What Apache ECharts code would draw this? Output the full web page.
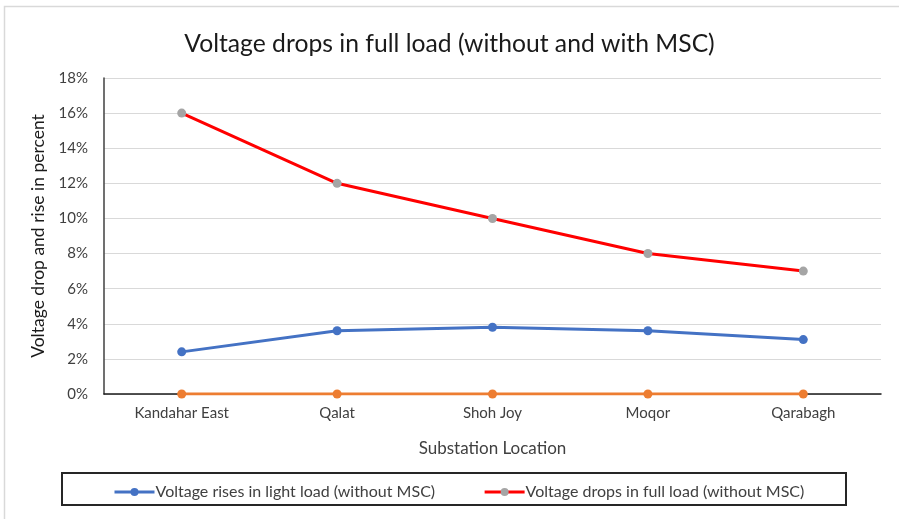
<!DOCTYPE html>
<html>
<head>
<meta charset="utf-8">
<script src="https://cdn.jsdelivr.net/npm/echarts@6/dist/echarts.min.js"></script>
<style>
html,body{margin:0;padding:0;background:#fff;}
#chart{width:899px;height:519px;}
</style>
</head>
<body>
<div id="chart"></div>
<script>
const categories = ['Kandahar East', 'Qalat', 'Shoh Joy', 'Moqor', 'Qarabagh'];
const lightLoadWithout = [2.4, 3.6, 3.8, 3.6, 3.1];
const fullLoadWithout = [16, 12, 10, 8, 7];
const withMSC = [0, 0, 0, 0, 0];
const yTicks = { min: 0, max: 18, interval: 2 };

const FONT = 'Lato, "Open Sans", sans-serif';
const chart = echarts.init(document.getElementById('chart'));
chart.setOption({
  animation: false,
  backgroundColor: '#fff',
  title: {
    text: 'Voltage drops in full load (without and with MSC)',
    left: 'center',
    top: 27,
    textStyle: { fontFamily: FONT, fontSize: 24.7, fontWeight: 'normal', color: '#1a1a1a' }
  },
  grid: { left: 104, right: 18, top: 78, bottom: 125 },
  xAxis: {
    type: 'category',
    data: categories,
    boundaryGap: true,
    name: 'Substation Location',
    nameLocation: 'middle',
    nameGap: 46,
    nameTextStyle: { fontFamily: FONT, fontSize: 17, color: '#404040' },
    axisLine: { lineStyle: { color: '#1a1a1a', width: 1.5 } },
    axisTick: { show: false },
    axisLabel: { fontFamily: FONT, fontSize: 15, color: '#404040', margin: 12 }
  },
  yAxis: {
    type: 'value',
    min: yTicks.min,
    max: yTicks.max,
    interval: yTicks.interval,
    name: 'Voltage drop and rise in percent',
    nameLocation: 'middle',
    nameGap: 47,
    nameRotate: 90,
    nameTextStyle: { fontFamily: FONT, fontSize: 17.5, color: '#1a1a1a' },
    axisLine: { show: true, lineStyle: { color: '#404040', width: 1.5 } },
    axisTick: { show: false },
    axisLabel: { formatter: '{value}%', fontFamily: FONT, fontSize: 15, color: '#404040', margin: 16 },
    splitLine: { lineStyle: { color: '#d9d9d9', width: 1.2 } }
  },
  legend: {
    data: ['Voltage rises in light load (without MSC)', 'Voltage drops in full load (without MSC)'],
    left: 108,
    top: 479,
    itemWidth: 40,
    itemHeight: 10,
    itemGap: 48,
    lineStyle: { width: 3 },
    itemStyle: { borderWidth: 0 },
    textStyle: { fontFamily: FONT, fontSize: 16, color: '#404040', padding: [0, 0, 0, -4] }
  },
  graphic: [
    { type: 'rect', shape: { x: 4.5, y: 6.5, width: 920, height: 540 }, style: { fill: 'none', stroke: '#d9d9d9', lineWidth: 1.5 }, silent: true },
    { type: 'rect', shape: { x: 62, y: 473, width: 784, height: 32 }, style: { fill: 'none', stroke: '#262626', lineWidth: 2 }, silent: true }
  ],
  series: [
    {
      name: 'Voltage with MSC',
      type: 'line',
      data: withMSC,
      symbol: 'circle',
      symbolSize: 9,
      lineStyle: { color: '#ED7D31', width: 3 },
      itemStyle: { color: '#ED7D31' }
    },
    {
      name: 'Voltage rises in light load (without MSC)',
      type: 'line',
      data: lightLoadWithout,
      symbol: 'circle',
      symbolSize: 9,
      lineStyle: { color: '#4472C4', width: 3 },
      itemStyle: { color: '#4472C4' }
    },
    {
      name: 'Voltage drops in full load (without MSC)',
      type: 'line',
      data: fullLoadWithout,
      symbol: 'circle',
      symbolSize: 9,
      lineStyle: { color: '#FF0000', width: 3 },
      itemStyle: { color: '#A5A5A5' }
    }
  ]
});
</script>
</body>
</html>
